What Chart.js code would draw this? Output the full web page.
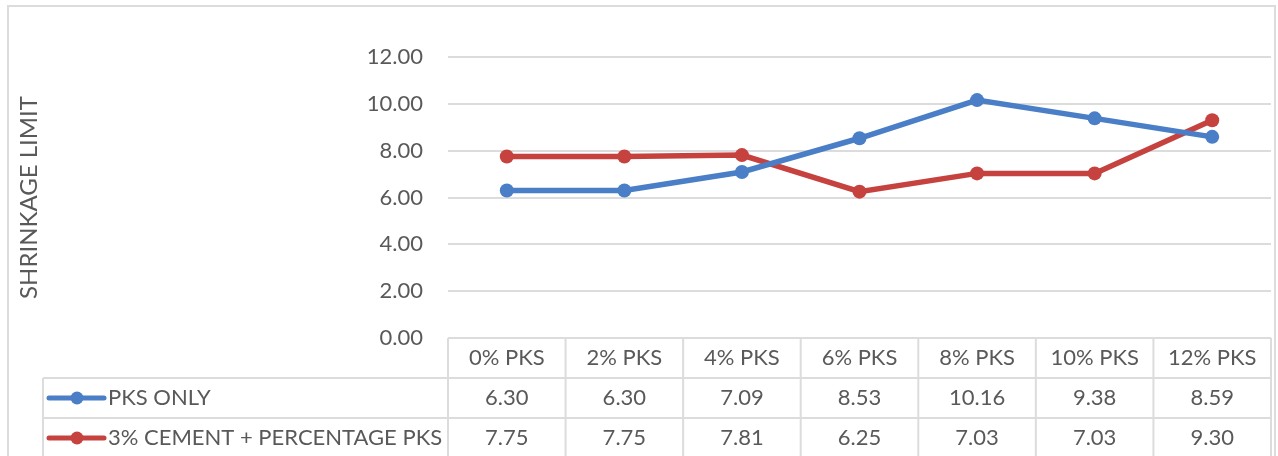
<!DOCTYPE html>
<html>
<head>
<meta charset="utf-8">
<script src="https://cdn.jsdelivr.net/npm/chart.js@4/dist/chart.umd.min.js"></script>
<style>
  html, body { margin: 0; padding: 0; background: #fff; }
  canvas { display: block; }
</style>
</head>
<body>
<canvas id="chart" width="1278" height="456"></canvas>
<script>
const categories = ["0% PKS", "2% PKS", "4% PKS", "6% PKS", "8% PKS", "10% PKS", "12% PKS"]
const pksOnly = [6.30, 6.30, 7.09, 8.53, 10.16, 9.38, 8.59]
const cementPks = [7.75, 7.75, 7.81, 6.25, 7.03, 7.03, 9.30]
const seriesNames = ["PKS ONLY", "3% CEMENT + PERCENTAGE PKS"]

const FONT = "Lato, 'Open Sans', sans-serif"
const TEXT = "#595959"
const GRID = "#dcdcdc"
const BLUE = "#4a7ec6"
const RED = "#c6423f"

// outer frame of the chart
const framePlugin = {
  id: "frame",
  beforeDraw(chart) {
    const ctx = chart.ctx
    ctx.save()
    ctx.strokeStyle = GRID
    ctx.lineWidth = 2
    ctx.strokeRect(8, 6, 1267, 470)
    ctx.restore()
  },
}

// excel style data table under the plot
const tablePlugin = {
  id: "dataTable",
  afterDraw(chart) {
    const ctx = chart.ctx
    const x = chart.scales.x
    const area = chart.chartArea
    const n = categories.length
    const cell = (area.right - area.left) / n
    const top = area.bottom
    const rowH = 40
    const labelLeft = 43
    const bottom = chart.height + 2

    ctx.save()
    ctx.strokeStyle = GRID
    ctx.lineWidth = 2
    ctx.beginPath()
    // horizontal lines
    ctx.moveTo(labelLeft, top + rowH); ctx.lineTo(area.right, top + rowH)
    ctx.moveTo(labelLeft, top + rowH * 2); ctx.lineTo(area.right, top + rowH * 2)
    // vertical lines
    ctx.moveTo(labelLeft, top + rowH); ctx.lineTo(labelLeft, bottom)
    for (let i = 0; i <= n; i++) {
      const px = area.left + i * cell
      ctx.moveTo(px, top); ctx.lineTo(px, bottom)
    }
    ctx.stroke()

    ctx.fillStyle = TEXT
    ctx.font = "22px " + FONT
    ctx.textAlign = "center"
    ctx.textBaseline = "middle"
    categories.forEach((c, i) => {
      ctx.fillText(c, x.getPixelForValue(i), top + rowH / 2)
    })

    chart.data.datasets.forEach((ds, r) => {
      const cy = top + rowH * (r + 1) + rowH / 2
      ds.data.forEach((v, i) => {
        ctx.textAlign = "center"
        ctx.fillText(v.toFixed(2), x.getPixelForValue(i), cy)
      })
      // legend key
      ctx.strokeStyle = ds.borderColor
      ctx.lineWidth = 5
      ctx.lineCap = "round"
      ctx.beginPath()
      ctx.moveTo(49, cy); ctx.lineTo(104, cy)
      ctx.stroke()
      ctx.fillStyle = ds.borderColor
      ctx.beginPath()
      ctx.arc(77, cy, 6.5, 0, Math.PI * 2)
      ctx.fill()
      ctx.fillStyle = TEXT
      ctx.textAlign = "left"
      ctx.fillText(seriesNames[r], 108, cy)
    })
    ctx.restore()
  },
}

const config = {
  type: "line",
  data: {
    labels: categories,
    datasets: [
      {
        label: seriesNames[0],
        data: pksOnly,
        borderColor: BLUE,
        backgroundColor: BLUE,
        borderWidth: 5.5,
        pointRadius: 7,
        pointBorderWidth: 0,
        tension: 0,
      },
      {
        label: seriesNames[1],
        data: cementPks,
        borderColor: RED,
        backgroundColor: RED,
        borderWidth: 5.5,
        pointRadius: 7,
        pointBorderWidth: 0,
        tension: 0,
      },
    ],
  },
  options: {
    responsive: false,
    animation: false,
    devicePixelRatio: 1,
    layout: {
      padding: { top: 57, bottom: 118, right: 3, left: 0 },
    },
    plugins: {
      legend: { display: false },
      tooltip: { enabled: false },
    },
    scales: {
      x: {
        offset: true,
        afterFit: (scale) => {
          scale.height = 0
        },
        grid: { display: false },
        border: { display: false },
        ticks: { display: false },
      },
      y: {
        min: 0,
        max: 12,
        afterFit: (scale) => {
          scale.width = 448
        },
        ticks: {
          stepSize: 2,
          padding: 25,
          color: TEXT,
          font: { family: FONT, size: 22 },
          callback: (v) => Number(v).toFixed(2),
        },
        grid: { color: GRID, lineWidth: 2, drawTicks: false },
        border: { display: false },
        title: {
          display: true,
          text: "SHRINKAGE LIMIT",
          color: TEXT,
          font: { family: FONT, size: 24 },
          padding: { top: 15, bottom: 0 },
        },
      },
    },
  },
  plugins: [framePlugin, tablePlugin],
}

new Chart(document.getElementById("chart"), config)
</script>
</body>
</html>
